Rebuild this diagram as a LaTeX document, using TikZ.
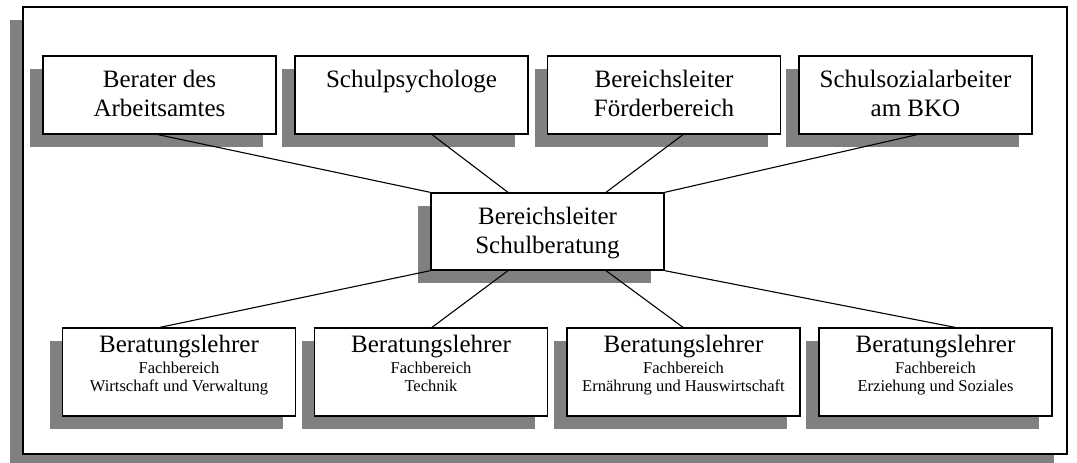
\documentclass[tikz,border=0pt]{standalone}
\usepackage{fontspec}
\setmainfont{Liberation Serif}
\usetikzlibrary{shadows}
\definecolor{shadowgray}{HTML}{808080}
\tikzset{
  shadowed/.style={drop shadow={shadow xshift=-13pt, shadow yshift=-13pt, opacity=1, fill=shadowgray}},
  box/.style={draw=black, line width=1.3pt, fill=white, minimum width=233pt, inner sep=0pt, shadowed},
  topbox/.style={box, minimum height=78pt},
  lowbox/.style={box, minimum height=88pt},
  bigtxt/.style={font=\fontsize{25}{29}\selectfont, anchor=base, inner sep=0pt},
  smalltxt/.style={font=\fontsize{16.5}{18.3}\selectfont, anchor=base, inner sep=0pt},
  link/.style={line width=1.1pt},
}
\newcommand{\lines}[1]{\begin{tabular}[t]{@{}c@{}}#1\end{tabular}}
\begin{document}
\begin{tikzpicture}[x=1pt, y=-1pt]
\useasboundingbox (0,0) rectangle (1077,463);
\clip (0,0) rectangle (1077,463);

% outer frame
\node[draw=black, line width=1.3pt, fill=white, shadowed, inner sep=0pt,
      minimum width=1044pt, minimum height=447pt] (frame) at (545,230.5) {};

% upper row
\node[topbox] (u1) at (159.5,95) {};
\node[topbox] (u2) at (411.5,95) {};
\node[topbox] (u3) at (664,95) {};
\node[topbox] (u4) at (915.5,95) {};

% central box
\node[box, minimum height=77pt] (c) at (547.5,231.5) {};

% lower row
\node[lowbox] (l1) at (179,372) {};
\node[lowbox] (l2) at (431,372) {};
\node[lowbox] (l3) at (683.5,372) {};
\node[lowbox] (l4) at (935.5,372) {};

% connectors
\draw[link] ([xshift=-1.5pt]u1.south) -- (c.north west);
\draw[link] ([xshift=20.5pt]u2.south) -- ([xshift=-39.5pt]c.north);
\draw[link] ([xshift=19pt]u3.south) -- ([xshift=58.5pt]c.north);
\draw[link] ([xshift=1.5pt]u4.south) -- (c.north east);
\draw[link] (c.south west) -- ([xshift=-19pt]l1.north);
\draw[link] ([xshift=-39.5pt]c.south) -- ([xshift=1pt]l2.north);
\draw[link] ([xshift=58.5pt]c.south) -- ([xshift=-0.5pt]l3.north);
\draw[link] (c.south east) -- ([xshift=19.5pt]l4.north);

% texts
\node[bigtxt] (u1t) at ([yshift=-32pt]u1.north) {\lines{Berater des\\Arbeitsamtes}};
\node[bigtxt] (u2t) at ([yshift=-32pt]u2.north) {\lines{Schulpsychologe}};
\node[bigtxt] (u3t) at ([yshift=-32pt]u3.north) {\lines{Bereichsleiter\\Förderbereich}};
\node[bigtxt] (u4t) at ([yshift=-32pt]u4.north) {\lines{Schulsozialarbeiter\\am BKO}};
\node[bigtxt] (ct) at ([yshift=-32pt]c.north) {\lines{Bereichsleiter\\Schulberatung}};

\foreach \n/\a/\b in {l1/Fachbereich/Wirtschaft und Verwaltung,
                      l2/Fachbereich/Technik,
                      l3/Fachbereich/Ernährung und Hauswirtschaft,
                      l4/Fachbereich/Erziehung und Soziales}{
  \node[bigtxt] (\n t) at ([yshift=-25pt]\n.north) {Beratungslehrer};
  \node[smalltxt] (\n s) at ([yshift=-46pt]\n.north) {\lines{\a\\\b}};
}
\end{tikzpicture}
\end{document}
